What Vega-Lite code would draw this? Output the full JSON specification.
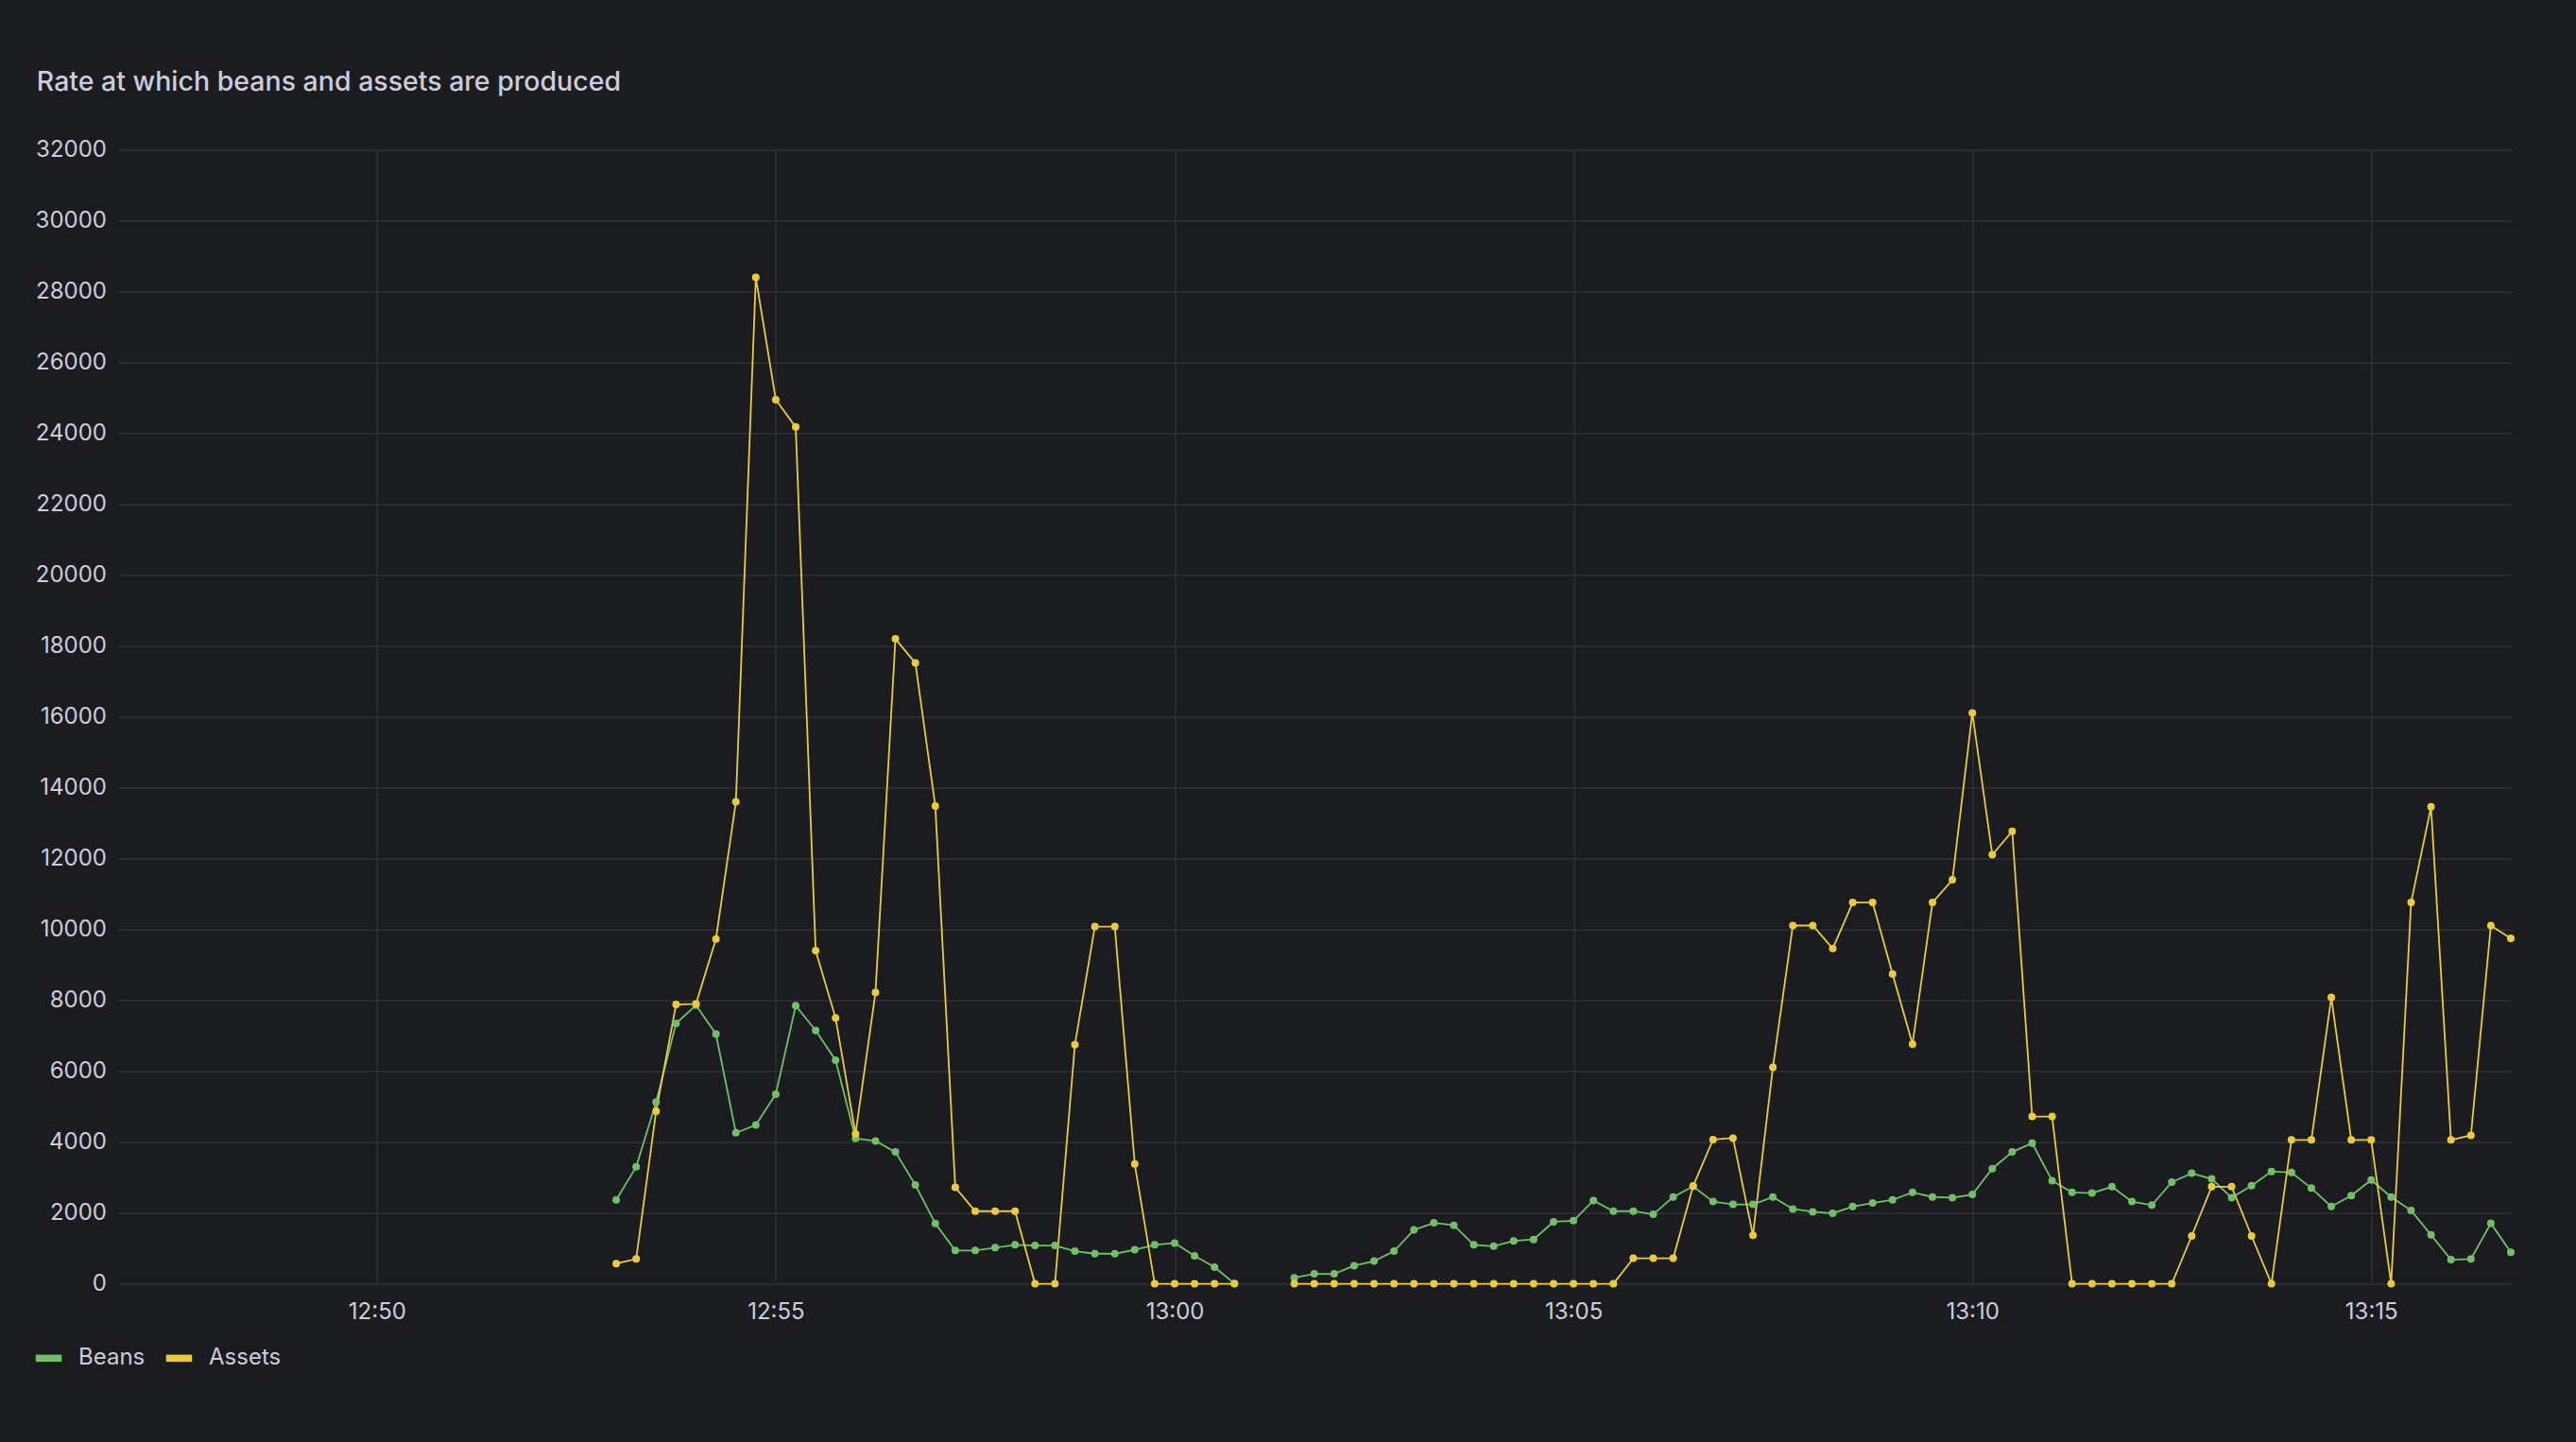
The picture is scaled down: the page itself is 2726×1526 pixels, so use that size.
{
  "$schema": "https://vega.github.io/schema/vega-lite/v6.json",
  "width": 2532.5,
  "height": 1200,
  "autosize": {"type": "none"},
  "padding": {"left": 124.5, "top": 158.6, "right": 69, "bottom": 167.4},
  "background": "#1b1c20",
  "config": {
    "font": "Inter",
    "view": {"stroke": null},
    "axis": {
      "labelFont": "Inter",
      "labelFontSize": 24,
      "labelColor": "#ccccdc",
      "domain": false,
      "ticks": false,
      "tickSize": 0,
      "gridColor": "#34363b",
      "gridWidth": 1.2
    }
  },
  "title": {
    "text": "Rate at which beans and assets are produced",
    "anchor": "start",
    "frame": "group",
    "dx": -85.7,
    "offset": 22.5,
    "baseline": "alphabetic",
    "font": "Inter",
    "fontSize": 28.5,
    "fontWeight": 500,
    "color": "#ccccdc"
  },
  "data": {
    "values": [
      {"t": "2024-01-01T12:53:00Z", "g": 1, "s": "Beans", "v": 2370},
      {"t": "2024-01-01T12:53:15Z", "g": 1, "s": "Beans", "v": 3300},
      {"t": "2024-01-01T12:53:30Z", "g": 1, "s": "Beans", "v": 5130},
      {"t": "2024-01-01T12:53:45Z", "g": 1, "s": "Beans", "v": 7350},
      {"t": "2024-01-01T12:54:00Z", "g": 1, "s": "Beans", "v": 7860},
      {"t": "2024-01-01T12:54:15Z", "g": 1, "s": "Beans", "v": 7050},
      {"t": "2024-01-01T12:54:30Z", "g": 1, "s": "Beans", "v": 4260},
      {"t": "2024-01-01T12:54:45Z", "g": 1, "s": "Beans", "v": 4480},
      {"t": "2024-01-01T12:55:00Z", "g": 1, "s": "Beans", "v": 5350},
      {"t": "2024-01-01T12:55:15Z", "g": 1, "s": "Beans", "v": 7850},
      {"t": "2024-01-01T12:55:30Z", "g": 1, "s": "Beans", "v": 7150},
      {"t": "2024-01-01T12:55:45Z", "g": 1, "s": "Beans", "v": 6310},
      {"t": "2024-01-01T12:56:00Z", "g": 1, "s": "Beans", "v": 4100},
      {"t": "2024-01-01T12:56:15Z", "g": 1, "s": "Beans", "v": 4030},
      {"t": "2024-01-01T12:56:30Z", "g": 1, "s": "Beans", "v": 3720},
      {"t": "2024-01-01T12:56:45Z", "g": 1, "s": "Beans", "v": 2790},
      {"t": "2024-01-01T12:57:00Z", "g": 1, "s": "Beans", "v": 1700},
      {"t": "2024-01-01T12:57:15Z", "g": 1, "s": "Beans", "v": 940},
      {"t": "2024-01-01T12:57:30Z", "g": 1, "s": "Beans", "v": 940},
      {"t": "2024-01-01T12:57:45Z", "g": 1, "s": "Beans", "v": 1020},
      {"t": "2024-01-01T12:58:00Z", "g": 1, "s": "Beans", "v": 1100},
      {"t": "2024-01-01T12:58:15Z", "g": 1, "s": "Beans", "v": 1080},
      {"t": "2024-01-01T12:58:30Z", "g": 1, "s": "Beans", "v": 1080},
      {"t": "2024-01-01T12:58:45Z", "g": 1, "s": "Beans", "v": 920},
      {"t": "2024-01-01T12:59:00Z", "g": 1, "s": "Beans", "v": 850},
      {"t": "2024-01-01T12:59:15Z", "g": 1, "s": "Beans", "v": 850},
      {"t": "2024-01-01T12:59:30Z", "g": 1, "s": "Beans", "v": 960},
      {"t": "2024-01-01T12:59:45Z", "g": 1, "s": "Beans", "v": 1100},
      {"t": "2024-01-01T13:00:00Z", "g": 1, "s": "Beans", "v": 1150},
      {"t": "2024-01-01T13:00:15Z", "g": 1, "s": "Beans", "v": 790},
      {"t": "2024-01-01T13:00:30Z", "g": 1, "s": "Beans", "v": 470},
      {"t": "2024-01-01T13:00:45Z", "g": 1, "s": "Beans", "v": 10},
      {"t": "2024-01-01T13:01:30Z", "g": 2, "s": "Beans", "v": 170},
      {"t": "2024-01-01T13:01:45Z", "g": 2, "s": "Beans", "v": 280},
      {"t": "2024-01-01T13:02:00Z", "g": 2, "s": "Beans", "v": 280},
      {"t": "2024-01-01T13:02:15Z", "g": 2, "s": "Beans", "v": 510},
      {"t": "2024-01-01T13:02:30Z", "g": 2, "s": "Beans", "v": 640},
      {"t": "2024-01-01T13:02:45Z", "g": 2, "s": "Beans", "v": 920},
      {"t": "2024-01-01T13:03:00Z", "g": 2, "s": "Beans", "v": 1520},
      {"t": "2024-01-01T13:03:15Z", "g": 2, "s": "Beans", "v": 1720},
      {"t": "2024-01-01T13:03:30Z", "g": 2, "s": "Beans", "v": 1650},
      {"t": "2024-01-01T13:03:45Z", "g": 2, "s": "Beans", "v": 1100},
      {"t": "2024-01-01T13:04:00Z", "g": 2, "s": "Beans", "v": 1060},
      {"t": "2024-01-01T13:04:15Z", "g": 2, "s": "Beans", "v": 1210},
      {"t": "2024-01-01T13:04:30Z", "g": 2, "s": "Beans", "v": 1250},
      {"t": "2024-01-01T13:04:45Z", "g": 2, "s": "Beans", "v": 1750},
      {"t": "2024-01-01T13:05:00Z", "g": 2, "s": "Beans", "v": 1780},
      {"t": "2024-01-01T13:05:15Z", "g": 2, "s": "Beans", "v": 2350},
      {"t": "2024-01-01T13:05:30Z", "g": 2, "s": "Beans", "v": 2050},
      {"t": "2024-01-01T13:05:45Z", "g": 2, "s": "Beans", "v": 2050},
      {"t": "2024-01-01T13:06:00Z", "g": 2, "s": "Beans", "v": 1960},
      {"t": "2024-01-01T13:06:15Z", "g": 2, "s": "Beans", "v": 2450},
      {"t": "2024-01-01T13:06:30Z", "g": 2, "s": "Beans", "v": 2750},
      {"t": "2024-01-01T13:06:45Z", "g": 2, "s": "Beans", "v": 2320},
      {"t": "2024-01-01T13:07:00Z", "g": 2, "s": "Beans", "v": 2240},
      {"t": "2024-01-01T13:07:15Z", "g": 2, "s": "Beans", "v": 2240},
      {"t": "2024-01-01T13:07:30Z", "g": 2, "s": "Beans", "v": 2450},
      {"t": "2024-01-01T13:07:45Z", "g": 2, "s": "Beans", "v": 2110},
      {"t": "2024-01-01T13:08:00Z", "g": 2, "s": "Beans", "v": 2030},
      {"t": "2024-01-01T13:08:15Z", "g": 2, "s": "Beans", "v": 1990},
      {"t": "2024-01-01T13:08:30Z", "g": 2, "s": "Beans", "v": 2180},
      {"t": "2024-01-01T13:08:45Z", "g": 2, "s": "Beans", "v": 2280},
      {"t": "2024-01-01T13:09:00Z", "g": 2, "s": "Beans", "v": 2370},
      {"t": "2024-01-01T13:09:15Z", "g": 2, "s": "Beans", "v": 2580},
      {"t": "2024-01-01T13:09:30Z", "g": 2, "s": "Beans", "v": 2450},
      {"t": "2024-01-01T13:09:45Z", "g": 2, "s": "Beans", "v": 2430},
      {"t": "2024-01-01T13:10:00Z", "g": 2, "s": "Beans", "v": 2520},
      {"t": "2024-01-01T13:10:15Z", "g": 2, "s": "Beans", "v": 3250},
      {"t": "2024-01-01T13:10:30Z", "g": 2, "s": "Beans", "v": 3720},
      {"t": "2024-01-01T13:10:45Z", "g": 2, "s": "Beans", "v": 3970},
      {"t": "2024-01-01T13:11:00Z", "g": 2, "s": "Beans", "v": 2910},
      {"t": "2024-01-01T13:11:15Z", "g": 2, "s": "Beans", "v": 2580},
      {"t": "2024-01-01T13:11:30Z", "g": 2, "s": "Beans", "v": 2560},
      {"t": "2024-01-01T13:11:45Z", "g": 2, "s": "Beans", "v": 2740},
      {"t": "2024-01-01T13:12:00Z", "g": 2, "s": "Beans", "v": 2320},
      {"t": "2024-01-01T13:12:15Z", "g": 2, "s": "Beans", "v": 2220},
      {"t": "2024-01-01T13:12:30Z", "g": 2, "s": "Beans", "v": 2870},
      {"t": "2024-01-01T13:12:45Z", "g": 2, "s": "Beans", "v": 3120},
      {"t": "2024-01-01T13:13:00Z", "g": 2, "s": "Beans", "v": 2960},
      {"t": "2024-01-01T13:13:15Z", "g": 2, "s": "Beans", "v": 2430},
      {"t": "2024-01-01T13:13:30Z", "g": 2, "s": "Beans", "v": 2770},
      {"t": "2024-01-01T13:13:45Z", "g": 2, "s": "Beans", "v": 3170},
      {"t": "2024-01-01T13:14:00Z", "g": 2, "s": "Beans", "v": 3140},
      {"t": "2024-01-01T13:14:15Z", "g": 2, "s": "Beans", "v": 2700},
      {"t": "2024-01-01T13:14:30Z", "g": 2, "s": "Beans", "v": 2180},
      {"t": "2024-01-01T13:14:45Z", "g": 2, "s": "Beans", "v": 2490},
      {"t": "2024-01-01T13:15:00Z", "g": 2, "s": "Beans", "v": 2930},
      {"t": "2024-01-01T13:15:15Z", "g": 2, "s": "Beans", "v": 2450},
      {"t": "2024-01-01T13:15:30Z", "g": 2, "s": "Beans", "v": 2070},
      {"t": "2024-01-01T13:15:45Z", "g": 2, "s": "Beans", "v": 1380},
      {"t": "2024-01-01T13:16:00Z", "g": 2, "s": "Beans", "v": 680},
      {"t": "2024-01-01T13:16:15Z", "g": 2, "s": "Beans", "v": 700},
      {"t": "2024-01-01T13:16:30Z", "g": 2, "s": "Beans", "v": 1710},
      {"t": "2024-01-01T13:16:45Z", "g": 2, "s": "Beans", "v": 890},
      {"t": "2024-01-01T12:53:00Z", "g": 1, "s": "Assets", "v": 570},
      {"t": "2024-01-01T12:53:15Z", "g": 1, "s": "Assets", "v": 700},
      {"t": "2024-01-01T12:53:30Z", "g": 1, "s": "Assets", "v": 4870},
      {"t": "2024-01-01T12:53:45Z", "g": 1, "s": "Assets", "v": 7880},
      {"t": "2024-01-01T12:54:00Z", "g": 1, "s": "Assets", "v": 7900},
      {"t": "2024-01-01T12:54:15Z", "g": 1, "s": "Assets", "v": 9730},
      {"t": "2024-01-01T12:54:30Z", "g": 1, "s": "Assets", "v": 13600},
      {"t": "2024-01-01T12:54:45Z", "g": 1, "s": "Assets", "v": 28400},
      {"t": "2024-01-01T12:55:00Z", "g": 1, "s": "Assets", "v": 24950},
      {"t": "2024-01-01T12:55:15Z", "g": 1, "s": "Assets", "v": 24180},
      {"t": "2024-01-01T12:55:30Z", "g": 1, "s": "Assets", "v": 9400},
      {"t": "2024-01-01T12:55:45Z", "g": 1, "s": "Assets", "v": 7500},
      {"t": "2024-01-01T12:56:00Z", "g": 1, "s": "Assets", "v": 4230},
      {"t": "2024-01-01T12:56:15Z", "g": 1, "s": "Assets", "v": 8220},
      {"t": "2024-01-01T12:56:30Z", "g": 1, "s": "Assets", "v": 18200},
      {"t": "2024-01-01T12:56:45Z", "g": 1, "s": "Assets", "v": 17520},
      {"t": "2024-01-01T12:57:00Z", "g": 1, "s": "Assets", "v": 13480},
      {"t": "2024-01-01T12:57:15Z", "g": 1, "s": "Assets", "v": 2720},
      {"t": "2024-01-01T12:57:30Z", "g": 1, "s": "Assets", "v": 2050},
      {"t": "2024-01-01T12:57:45Z", "g": 1, "s": "Assets", "v": 2050},
      {"t": "2024-01-01T12:58:00Z", "g": 1, "s": "Assets", "v": 2050},
      {"t": "2024-01-01T12:58:15Z", "g": 1, "s": "Assets", "v": 0},
      {"t": "2024-01-01T12:58:30Z", "g": 1, "s": "Assets", "v": 0},
      {"t": "2024-01-01T12:58:45Z", "g": 1, "s": "Assets", "v": 6750},
      {"t": "2024-01-01T12:59:00Z", "g": 1, "s": "Assets", "v": 10080},
      {"t": "2024-01-01T12:59:15Z", "g": 1, "s": "Assets", "v": 10080},
      {"t": "2024-01-01T12:59:30Z", "g": 1, "s": "Assets", "v": 3380},
      {"t": "2024-01-01T12:59:45Z", "g": 1, "s": "Assets", "v": 0},
      {"t": "2024-01-01T13:00:00Z", "g": 1, "s": "Assets", "v": 0},
      {"t": "2024-01-01T13:00:15Z", "g": 1, "s": "Assets", "v": 0},
      {"t": "2024-01-01T13:00:30Z", "g": 1, "s": "Assets", "v": 0},
      {"t": "2024-01-01T13:00:45Z", "g": 1, "s": "Assets", "v": 0},
      {"t": "2024-01-01T13:01:30Z", "g": 2, "s": "Assets", "v": 0},
      {"t": "2024-01-01T13:01:45Z", "g": 2, "s": "Assets", "v": 0},
      {"t": "2024-01-01T13:02:00Z", "g": 2, "s": "Assets", "v": 0},
      {"t": "2024-01-01T13:02:15Z", "g": 2, "s": "Assets", "v": 0},
      {"t": "2024-01-01T13:02:30Z", "g": 2, "s": "Assets", "v": 0},
      {"t": "2024-01-01T13:02:45Z", "g": 2, "s": "Assets", "v": 0},
      {"t": "2024-01-01T13:03:00Z", "g": 2, "s": "Assets", "v": 0},
      {"t": "2024-01-01T13:03:15Z", "g": 2, "s": "Assets", "v": 0},
      {"t": "2024-01-01T13:03:30Z", "g": 2, "s": "Assets", "v": 0},
      {"t": "2024-01-01T13:03:45Z", "g": 2, "s": "Assets", "v": 0},
      {"t": "2024-01-01T13:04:00Z", "g": 2, "s": "Assets", "v": 0},
      {"t": "2024-01-01T13:04:15Z", "g": 2, "s": "Assets", "v": 0},
      {"t": "2024-01-01T13:04:30Z", "g": 2, "s": "Assets", "v": 0},
      {"t": "2024-01-01T13:04:45Z", "g": 2, "s": "Assets", "v": 0},
      {"t": "2024-01-01T13:05:00Z", "g": 2, "s": "Assets", "v": 0},
      {"t": "2024-01-01T13:05:15Z", "g": 2, "s": "Assets", "v": 0},
      {"t": "2024-01-01T13:05:30Z", "g": 2, "s": "Assets", "v": 0},
      {"t": "2024-01-01T13:05:45Z", "g": 2, "s": "Assets", "v": 720},
      {"t": "2024-01-01T13:06:00Z", "g": 2, "s": "Assets", "v": 720},
      {"t": "2024-01-01T13:06:15Z", "g": 2, "s": "Assets", "v": 720},
      {"t": "2024-01-01T13:06:30Z", "g": 2, "s": "Assets", "v": 2760},
      {"t": "2024-01-01T13:06:45Z", "g": 2, "s": "Assets", "v": 4070},
      {"t": "2024-01-01T13:07:00Z", "g": 2, "s": "Assets", "v": 4110},
      {"t": "2024-01-01T13:07:15Z", "g": 2, "s": "Assets", "v": 1370},
      {"t": "2024-01-01T13:07:30Z", "g": 2, "s": "Assets", "v": 6110},
      {"t": "2024-01-01T13:07:45Z", "g": 2, "s": "Assets", "v": 10110},
      {"t": "2024-01-01T13:08:00Z", "g": 2, "s": "Assets", "v": 10110},
      {"t": "2024-01-01T13:08:15Z", "g": 2, "s": "Assets", "v": 9460},
      {"t": "2024-01-01T13:08:30Z", "g": 2, "s": "Assets", "v": 10760},
      {"t": "2024-01-01T13:08:45Z", "g": 2, "s": "Assets", "v": 10760},
      {"t": "2024-01-01T13:09:00Z", "g": 2, "s": "Assets", "v": 8740},
      {"t": "2024-01-01T13:09:15Z", "g": 2, "s": "Assets", "v": 6760},
      {"t": "2024-01-01T13:09:30Z", "g": 2, "s": "Assets", "v": 10760},
      {"t": "2024-01-01T13:09:45Z", "g": 2, "s": "Assets", "v": 11400},
      {"t": "2024-01-01T13:10:00Z", "g": 2, "s": "Assets", "v": 16110},
      {"t": "2024-01-01T13:10:15Z", "g": 2, "s": "Assets", "v": 12110},
      {"t": "2024-01-01T13:10:30Z", "g": 2, "s": "Assets", "v": 12770},
      {"t": "2024-01-01T13:10:45Z", "g": 2, "s": "Assets", "v": 4720},
      {"t": "2024-01-01T13:11:00Z", "g": 2, "s": "Assets", "v": 4720},
      {"t": "2024-01-01T13:11:15Z", "g": 2, "s": "Assets", "v": 0},
      {"t": "2024-01-01T13:11:30Z", "g": 2, "s": "Assets", "v": 0},
      {"t": "2024-01-01T13:11:45Z", "g": 2, "s": "Assets", "v": 0},
      {"t": "2024-01-01T13:12:00Z", "g": 2, "s": "Assets", "v": 0},
      {"t": "2024-01-01T13:12:15Z", "g": 2, "s": "Assets", "v": 0},
      {"t": "2024-01-01T13:12:30Z", "g": 2, "s": "Assets", "v": 0},
      {"t": "2024-01-01T13:12:45Z", "g": 2, "s": "Assets", "v": 1350},
      {"t": "2024-01-01T13:13:00Z", "g": 2, "s": "Assets", "v": 2740},
      {"t": "2024-01-01T13:13:15Z", "g": 2, "s": "Assets", "v": 2740},
      {"t": "2024-01-01T13:13:30Z", "g": 2, "s": "Assets", "v": 1350},
      {"t": "2024-01-01T13:13:45Z", "g": 2, "s": "Assets", "v": 0},
      {"t": "2024-01-01T13:14:00Z", "g": 2, "s": "Assets", "v": 4060},
      {"t": "2024-01-01T13:14:15Z", "g": 2, "s": "Assets", "v": 4060},
      {"t": "2024-01-01T13:14:30Z", "g": 2, "s": "Assets", "v": 8080},
      {"t": "2024-01-01T13:14:45Z", "g": 2, "s": "Assets", "v": 4060},
      {"t": "2024-01-01T13:15:00Z", "g": 2, "s": "Assets", "v": 4060},
      {"t": "2024-01-01T13:15:15Z", "g": 2, "s": "Assets", "v": 0},
      {"t": "2024-01-01T13:15:30Z", "g": 2, "s": "Assets", "v": 10760},
      {"t": "2024-01-01T13:15:45Z", "g": 2, "s": "Assets", "v": 13460},
      {"t": "2024-01-01T13:16:00Z", "g": 2, "s": "Assets", "v": 4060},
      {"t": "2024-01-01T13:16:15Z", "g": 2, "s": "Assets", "v": 4190},
      {"t": "2024-01-01T13:16:30Z", "g": 2, "s": "Assets", "v": 10110},
      {"t": "2024-01-01T13:16:45Z", "g": 2, "s": "Assets", "v": 9750}
    ]
  },
  "encoding": {
    "x": {
      "field": "t",
      "type": "temporal",
      "title": null,
      "scale": {
        "type": "utc",
        "domain": [1704113205000, 1704115005000],
        "nice": false
      },
      "axis": {
        "title": null,
        "values": [1704113400000, 1704113700000, 1704114000000, 1704114300000, 1704114600000, 1704114900000],
        "labelExpr": "utcFormat(datum.value, '%H:%M')",
        "labelPadding": 18,
        "labelFlush": false
      }
    },
    "y": {
      "field": "v",
      "type": "quantitative",
      "title": null,
      "scale": {"domain": [0, 32000], "nice": false},
      "axis": {
        "title": null,
        "values": [0, 2000, 4000, 6000, 8000, 10000, 12000, 14000, 16000, 18000, 20000, 22000, 24000, 26000, 28000, 30000, 32000],
        "format": "d",
        "labelPadding": 12
      }
    }
  },
  "layer": [
    {
      "mark": {"type": "line", "strokeWidth": 1.8},
      "encoding": {
        "detail": {"field": "g", "type": "nominal"},
        "color": {
          "field": "s",
          "type": "nominal",
          "scale": {"domain": ["Beans", "Assets"], "range": ["#73BF69", "#EACB3D"]},
          "legend": {
            "title": null,
            "orient": "none",
            "direction": "horizontal",
            "legendX": -90.5,
            "legendY": 1261,
            "symbolType": "stroke",
            "symbolSize": 756,
            "symbolStrokeWidth": 7.5,
            "labelFont": "Inter",
            "labelFontSize": 24,
            "labelColor": "#ccccdc",
            "labelOffset": 14,
            "columnPadding": 6
          }
        }
      }
    },
    {
      "mark": {"type": "point", "filled": true, "size": 64, "opacity": 1},
      "encoding": {
        "color": {
          "field": "s",
          "type": "nominal",
          "scale": {"domain": ["Beans", "Assets"], "range": ["#73BF69", "#EACB3D"]},
          "legend": null
        }
      }
    }
  ]
}
